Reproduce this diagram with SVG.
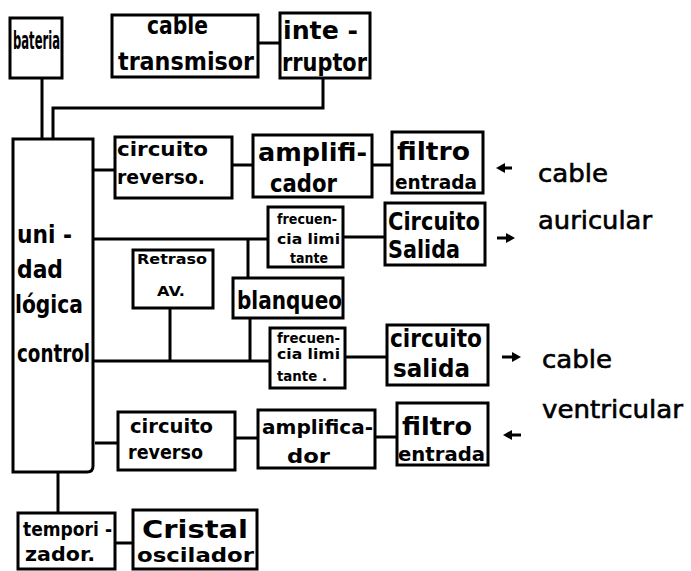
<svg xmlns="http://www.w3.org/2000/svg" width="691" height="571" viewBox="0 0 691 571">
<style>
.b{fill:#fff;stroke:#000;stroke-width:3}
.c{fill:none;stroke:#000;stroke-width:3}
.a{fill:#000;stroke:none}
text{font-family:"DejaVu Sans","Liberation Sans",sans-serif;font-weight:bold;fill:#000}
.s{font-size:14px}
.m{font-size:20px}
.l{font-size:24px}
.r{font-size:25px;font-weight:normal;stroke:#000;stroke-width:0.6}
</style>
<rect width="691" height="571" fill="#fff"/>
<g id="connectors">
<path class="c" d="M42,78 V140"/>
<path class="c" d="M323,78 V108 H53 V140"/>
<path class="c" d="M258,43 H280"/>
<path class="c" d="M93,170 H115"/>
<path class="c" d="M232,165 H253"/>
<path class="c" d="M372,165 H392"/>
<path class="c" d="M93,239 H268"/>
<path class="c" d="M248,239 V278"/>
<path class="c" d="M343,237 H385"/>
<path class="c" d="M170,308 V361"/>
<path class="c" d="M250,318 V361"/>
<path class="c" d="M93,361 H270"/>
<path class="c" d="M345,357 H387"/>
<path class="c" d="M95,443 H118"/>
<path class="c" d="M235,438 H258"/>
<path class="c" d="M375,437 H397"/>
<path class="c" d="M58,472 V513"/>
<path class="c" d="M115,543 H133"/>
<path class="c" d="M512,168 H503"/><path class="a" d="M496,168 L505,163 L505,173 Z"/>
<path class="c" d="M497,238 H508"/><path class="a" d="M515,238 L506,233 L506,243 Z"/>
<path class="c" d="M502,357 H513"/><path class="a" d="M521,357 L512,352 L512,362 Z"/>
<path class="c" d="M521,435 H511"/><path class="a" d="M503,435 L512,430 L512,440 Z"/>
</g>
<g id="bateria"><rect class="b" x="10" y="18" width="52" height="60"/><text class="l" x="13" y="49" textLength="47" lengthAdjust="spacingAndGlyphs">bateria</text></g>
<g id="cable-transmisor"><rect class="b" x="112" y="15" width="146" height="62"/><text class="l" x="147" y="34" textLength="61" lengthAdjust="spacingAndGlyphs">cable</text><text class="l" x="118" y="70" textLength="136" lengthAdjust="spacingAndGlyphs">transmisor</text></g>
<g id="interruptor"><rect class="b" x="280" y="13" width="90" height="65"/><text class="l" x="283" y="39" textLength="75" lengthAdjust="spacingAndGlyphs">inte -</text><text class="l" x="282" y="71" textLength="85" lengthAdjust="spacingAndGlyphs">rruptor</text></g>
<g id="unidad"><path class="b" d="M13,139 H93 V466 Q93,472 87,472 H13 Z"/><text class="l" x="17" y="243" textLength="55" lengthAdjust="spacingAndGlyphs">uni -</text><text class="l" x="17" y="278" textLength="46" lengthAdjust="spacingAndGlyphs">dad</text><text class="l" x="15" y="313" textLength="68" lengthAdjust="spacingAndGlyphs">lógica</text><text class="l" x="17" y="362" textLength="73" lengthAdjust="spacingAndGlyphs">control</text></g>
<g id="circuito-reverso-1"><rect class="b" x="115" y="137" width="117" height="61"/><text class="m" x="117" y="156" textLength="91" lengthAdjust="spacingAndGlyphs">circuito</text><text class="m" x="117" y="184" textLength="88" lengthAdjust="spacingAndGlyphs">reverso.</text></g>
<g id="amplificador-1"><rect class="b" x="253" y="135" width="119" height="62"/><text class="l" x="258" y="161" textLength="109" lengthAdjust="spacingAndGlyphs">amplifi-</text><text class="l" x="270" y="192" textLength="67" lengthAdjust="spacingAndGlyphs">cador</text></g>
<g id="filtro-entrada-1"><rect class="b" x="392" y="132" width="91" height="61"/><text class="l" x="397" y="160" textLength="73" lengthAdjust="spacingAndGlyphs">filtro</text><text class="m" x="395" y="189" textLength="82" lengthAdjust="spacingAndGlyphs">entrada</text></g>
<g id="frecuencia-limitante-1"><rect class="b" x="268" y="207" width="75" height="60"/><text class="s" x="277" y="224" textLength="60" lengthAdjust="spacingAndGlyphs">frecuen-</text><text class="s" x="277" y="244" textLength="63" lengthAdjust="spacingAndGlyphs">cia limi</text><text class="s" x="290" y="263" textLength="38" lengthAdjust="spacingAndGlyphs">tante</text></g>
<g id="circuito-salida-1"><rect class="b" x="385" y="203" width="100" height="62"/><text class="l" x="388" y="230" textLength="92" lengthAdjust="spacingAndGlyphs">Circuito</text><text class="l" x="388" y="258" textLength="72" lengthAdjust="spacingAndGlyphs">Salida</text></g>
<g id="retraso-av"><rect class="b" x="133" y="250" width="80" height="58"/><text class="s" x="137" y="264" textLength="70" lengthAdjust="spacingAndGlyphs">Retraso</text><text class="s" x="157" y="296" textLength="28" lengthAdjust="spacingAndGlyphs">AV.</text></g>
<g id="blanqueo"><rect class="b" x="233" y="278" width="110" height="40"/><text class="l" x="237" y="309" textLength="105" lengthAdjust="spacingAndGlyphs">blanqueo</text></g>
<g id="frecuencia-limitante-2"><rect class="b" x="270" y="328" width="75" height="60"/><text class="s" x="277" y="343" textLength="63" lengthAdjust="spacingAndGlyphs">frecuen-</text><text class="s" x="277" y="359" textLength="63" lengthAdjust="spacingAndGlyphs">cia limi</text><text class="s" x="277" y="381" textLength="50" lengthAdjust="spacingAndGlyphs">tante .</text></g>
<g id="circuito-salida-2"><rect class="b" x="387" y="325" width="101" height="60"/><text class="l" x="390" y="347" textLength="92" lengthAdjust="spacingAndGlyphs">circuito</text><text class="l" x="393" y="377" textLength="77" lengthAdjust="spacingAndGlyphs">salida</text></g>
<g id="circuito-reverso-2"><rect class="b" x="118" y="412" width="117" height="58"/><text class="m" x="130" y="433" textLength="83" lengthAdjust="spacingAndGlyphs">circuito</text><text class="m" x="128" y="459" textLength="75" lengthAdjust="spacingAndGlyphs">reverso</text></g>
<g id="amplificador-2"><rect class="b" x="258" y="410" width="117" height="58"/><text class="m" x="262" y="434" textLength="111" lengthAdjust="spacingAndGlyphs">amplifica-</text><text class="m" x="287" y="463" textLength="43" lengthAdjust="spacingAndGlyphs">dor</text></g>
<g id="filtro-entrada-2"><rect class="b" x="397" y="403" width="91" height="62"/><text class="l" x="402" y="435" textLength="70" lengthAdjust="spacingAndGlyphs">filtro</text><text class="m" x="398" y="461" textLength="87" lengthAdjust="spacingAndGlyphs">entrada</text></g>
<g id="temporizador"><rect class="b" x="18" y="513" width="97" height="56"/><text class="m" x="23" y="536" textLength="89" lengthAdjust="spacingAndGlyphs">tempori -</text><text class="m" x="25" y="561" textLength="70" lengthAdjust="spacingAndGlyphs">zador.</text></g>
<g id="cristal-oscilador"><rect class="b" x="133" y="510" width="124" height="59"/><text class="l" x="142" y="538" textLength="106" lengthAdjust="spacingAndGlyphs">Cristal</text><text class="m" x="137" y="562" textLength="117" lengthAdjust="spacingAndGlyphs">oscilador</text></g>
<g id="labels">
<text class="r" x="538" y="182" textLength="70" lengthAdjust="spacingAndGlyphs">cable</text>
<text class="r" x="538" y="229" textLength="114" lengthAdjust="spacingAndGlyphs">auricular</text>
<text class="r" x="542" y="368" textLength="70" lengthAdjust="spacingAndGlyphs">cable</text>
<text class="r" x="542" y="418" textLength="141" lengthAdjust="spacingAndGlyphs">ventricular</text>
</g>
</svg>
